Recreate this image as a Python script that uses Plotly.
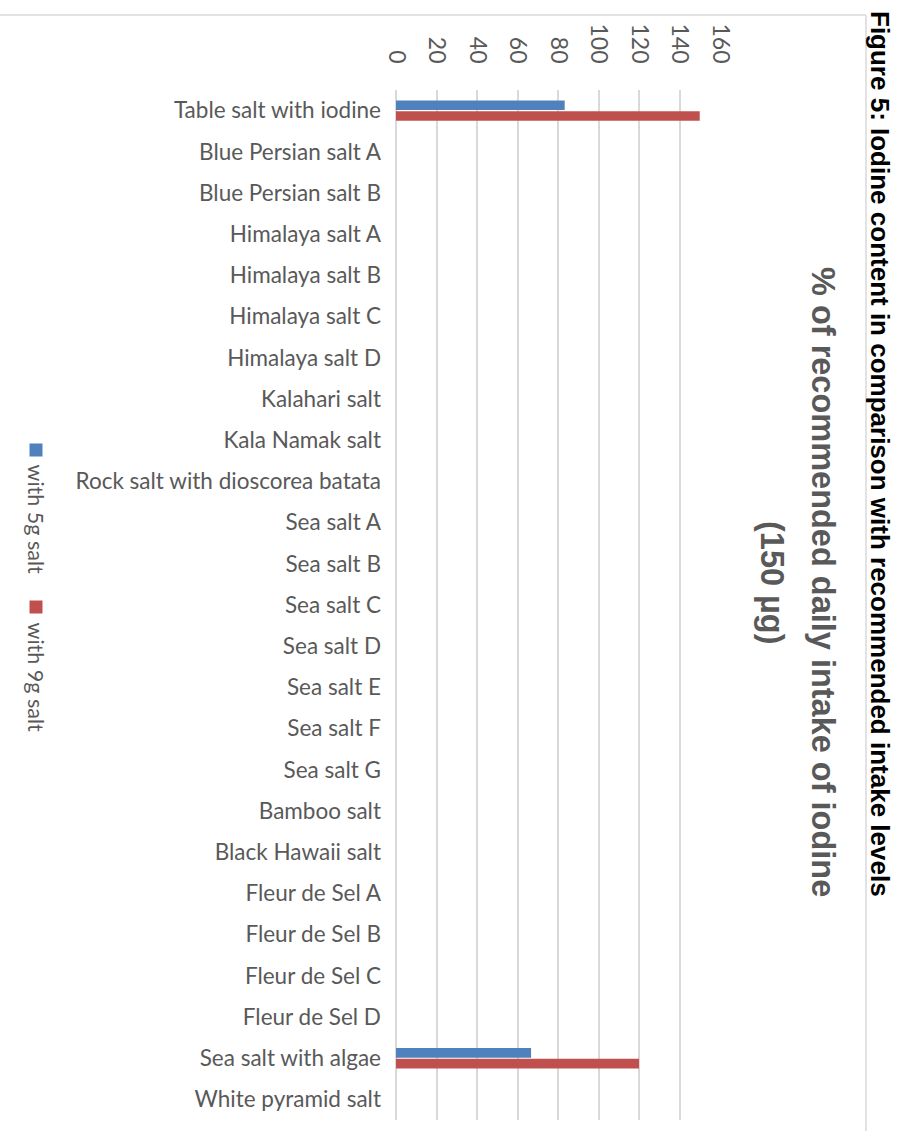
import plotly.graph_objects as go

# Salt samples and iodine intake as % of the recommended 150 µg per day
salts = [
    "Table salt with iodine", "Blue Persian salt A", "Blue Persian salt B",
    "Himalaya salt A", "Himalaya salt B", "Himalaya salt C", "Himalaya salt D",
    "Kalahari salt", "Kala Namak salt", "Rock salt with dioscorea batata",
    "Sea salt A", "Sea salt B", "Sea salt C", "Sea salt D", "Sea salt E",
    "Sea salt F", "Sea salt G", "Bamboo salt", "Black Hawaii salt",
    "Fleur de Sel A", "Fleur de Sel B", "Fleur de Sel C", "Fleur de Sel D",
    "Sea salt with algae", "White pyramid salt",
]
with_5g = [83.3, 0, 0, 0, 0, 0, 0, 0, 0, 0, 0, 0, 0, 0, 0, 0, 0, 0, 0, 0, 0, 0, 0, 66.7, 0]
with_9g = [150, 0, 0, 0, 0, 0, 0, 0, 0, 0, 0, 0, 0, 0, 0, 0, 0, 0, 0, 0, 0, 0, 0, 120, 0]
x_ticks = [0, 20, 40, 60, 80, 100, 120, 140, 160]

series_names = ["with 5g salt", "with 9g salt"]
BLUE = "#4F81BD"
RED = "#C0504D"
GRAY_TEXT = "#595959"
GRID = "#D9D9D9"
BODY_FONT = "Lato"

W, H = 906, 1131
L, R, T, B = 396, 186, 90, 11
plot_w = W - L - R
plot_h = H - T - B


def px_x(x):
    return (x - L) / plot_w


def px_y(y):
    return (H - B - y) / plot_h


fig = go.Figure()
fig.add_trace(go.Bar(y=salts, x=with_5g, orientation="h", name=series_names[0],
                     marker=dict(color=BLUE, line=dict(width=0))))
fig.add_trace(go.Bar(y=salts, x=with_9g, orientation="h", name=series_names[1],
                     marker=dict(color=RED, line=dict(width=0))))

fig.update_layout(
    width=W, height=H,
    margin=dict(l=L, r=R, t=T, b=B),
    paper_bgcolor="white", plot_bgcolor="white",
    barmode="group", bargap=0.48, bargroupgap=0.1,
    showlegend=False,
    font=dict(family=BODY_FONT, color=GRAY_TEXT),
)
fig.update_xaxes(
    side="top", range=[0, 160], tickvals=x_ticks, ticktext=[str(v) for v in x_ticks],
    tickangle=90, tickfont=dict(size=23, color=GRAY_TEXT, family=BODY_FONT),
    showgrid=True, gridcolor=GRID, gridwidth=1.5,
    zeroline=True, zerolinecolor=GRID, zerolinewidth=1.5,
    showline=False, ticks="", ticklabelstandoff=22,
)
fig.update_yaxes(
    autorange="reversed", tickfont=dict(size=22.5, color=GRAY_TEXT, family=BODY_FONT),
    showgrid=False, zeroline=False, showline=False, ticks="", ticklabelstandoff=14,
)

# chart frame
fig.add_shape(type="line", xref="paper", yref="paper",
              x0=px_x(0), x1=px_x(866), y0=px_y(15), y1=px_y(15),
              line=dict(color=GRID, width=1.5))
fig.add_shape(type="line", xref="paper", yref="paper",
              x0=px_x(866), x1=px_x(866), y0=px_y(15), y1=px_y(H),
              line=dict(color=GRID, width=1.5))

# figure caption
fig.add_annotation(text="<b>Figure 5: Iodine content in comparison with recommended intake levels</b>",
                   xref="paper", yref="paper", x=px_x(880), y=px_y(454),
                   xanchor="center", yanchor="middle", textangle=90, showarrow=False,
                   font=dict(family="Liberation Sans", size=26, color="black"))

# value axis title
fig.add_annotation(text="<b>% of recommended daily intake of iodine</b>",
                   xref="paper", yref="paper", x=px_x(823), y=px_y(582),
                   xanchor="center", yanchor="middle", textangle=90, showarrow=False,
                   font=dict(family="Liberation Sans", size=32.5, color=GRAY_TEXT))
fig.add_annotation(text="<b>(150 µg)</b>",
                   xref="paper", yref="paper", x=px_x(772), y=px_y(582),
                   xanchor="center", yanchor="middle", textangle=90, showarrow=False,
                   font=dict(family="Liberation Sans", size=32.5, color=GRAY_TEXT))

# legend, turned with the rest of the chart
legend_items = [(series_names[0], BLUE, 450, 462), (series_names[1], RED, 607, 620)]
for name, color, sq_y, txt_y in legend_items:
    fig.add_shape(type="rect", xref="paper", yref="paper",
                  x0=px_x(29.5), x1=px_x(42.5), y0=px_y(sq_y - 6.5), y1=px_y(sq_y + 6.5),
                  fillcolor=color, line=dict(width=0))
    fig.add_annotation(text=name, xref="paper", yref="paper",
                       x=px_x(36), y=px_y(txt_y), xanchor="center", yanchor="top",
                       textangle=90, showarrow=False,
                       font=dict(family=BODY_FONT, size=21.5, color=GRAY_TEXT))

fig.write_html("out.html")
